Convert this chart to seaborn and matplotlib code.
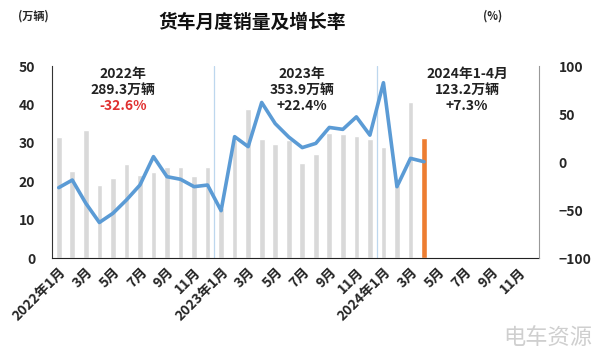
import matplotlib
matplotlib.use("Agg")
import matplotlib.pyplot as plt
import seaborn as sns
import pandas as pd
import numpy as np

sns.set_style("white")
plt.rcParams['font.family'] = ['Noto Sans CJK SC', 'DejaVu Sans']

# ---- data ----
months = [f"{y}-{m:02d}" for y in (2022, 2023, 2024) for m in range(1, 13)]
tick_labels = ["2022年1月", "3月", "5月", "7月", "9月", "11月",
               "2023年1月", "3月", "5月", "7月", "9月", "11月",
               "2024年1月", "3月", "5月", "7月", "9月", "11月"]
sales = [31.4, 22.6, 33.3, 19.0, 20.9, 24.5, 21.6, 22.5, 23.6, 23.6, 21.4, 23.8,
         13.0, 30.7, 38.9, 31.1, 29.6, 30.7, 24.8, 27.0, 32.6, 32.2, 31.8, 31.1,
         28.8, 19.0, 40.5, 31.2]
growth = [-26.7, -18.8, -43.0, -63.0, -53.5, -39.6, -24.0, 5.6, -15.3, -18.0, -25.7, -24.0,
          -50.7, 26.4, 16.0, 62.0, 40.0, 26.0, 15.0, 19.4, 36.0, 34.0, 47.0, 28.0,
          82.6, -25.7, 3.8, 0.3]
annot_years = ["2022年", "2023年", "2024年1-4月"]
annot_totals = ["289.3万辆", "353.9万辆", "123.2万辆"]
annot_growth = ["-32.6%", "+22.4%", "+7.3%"]

n_data = len(sales)
df = pd.DataFrame({
    "month": months,
    "sales": sales + [np.nan] * (len(months) - n_data),
    "kind": ["hist"] * (n_data - 1) + ["cur"] + ["none"] * (len(months) - n_data),
})
df_line = pd.DataFrame({"idx": np.arange(n_data), "growth": growth})

fig = plt.figure(figsize=(6.08, 3.55), dpi=100)
ax = fig.add_axes([52 / 608, 1 - 258 / 355, (539 - 52) / 608, (258 - 66) / 355])

sns.barplot(data=df, x="month", y="sales", hue="kind", order=months,
            palette={"hist": "#d9d9d9", "cur": "#ed7d31", "none": "#d9d9d9"},
            dodge=False, width=0.42, legend=False, ax=ax, saturation=1)
ax.set_xlim(-0.5, len(months) - 0.5)
ax.set_ylim(0, 50)
ax.set_yticks(range(0, 51, 10))
ax.set_xlabel("")
ax.set_ylabel("")
ax.set_xticks(range(0, len(months), 2))
ax.set_xticklabels(tick_labels, rotation=45, ha="right", rotation_mode="anchor",
                   fontsize=10, fontweight="bold")
for lab in ax.get_yticklabels():
    lab.set_fontweight("bold")
    lab.set_fontsize(10)
ax.tick_params(axis="x", length=0, pad=5)
ax.tick_params(axis="y", length=0, pad=12)

for x in (11.5, 23.5):
    ax.axvline(x, color="#bdd7ee", lw=0.9, zorder=0.5)

ax2 = ax.twinx()
sns.lineplot(data=df_line, x="idx", y="growth", color="#5b9bd5", lw=2.6, ax=ax2)
ax2.set_ylim(-100, 100)
ax2.set_yticks([-100, -50, 0, 50, 100])
ax2.set_ylabel("")
ax2.set_xlabel("")
ax2.set_xlim(-0.5, len(months) - 0.5)
for lab in ax2.get_yticklabels():
    lab.set_fontweight("bold")
    lab.set_fontsize(10)
ax2.tick_params(axis="y", length=0, pad=14)

for a in (ax, ax2):
    a.spines["top"].set_visible(False)
ax.spines["left"].set_color("#333333")
ax.spines["bottom"].set_color("#222222")
ax.spines["right"].set_visible(False)
ax2.spines["left"].set_visible(False)
ax2.spines["bottom"].set_visible(False)
ax2.spines["right"].set_color("#999999")

# annotations
centers = [123, 302, 467]
for cx, yr, tot, gr in zip(centers, annot_years, annot_totals, annot_growth):
    fx = cx / 608
    fig.text(fx, 1 - 74 / 355, yr, ha="center", va="center", fontsize=10, fontweight="bold", color="#222222")
    fig.text(fx, 1 - 90 / 355, tot, ha="center", va="center", fontsize=10, fontweight="bold", color="#222222")
    fig.text(fx, 1 - 106 / 355, gr, ha="center", va="center", fontsize=10, fontweight="bold",
             color="#e03030" if gr.startswith("-") else "#222222")

fig.text(252 / 608, 1 - 22 / 355, "货车月度销量及增长率", ha="center", va="center",
         fontsize=13.5, fontweight="bold", color="#111111")
fig.text(33 / 608, 1 - 16 / 355, "(万辆)", ha="center", va="center", fontsize=8, fontweight="bold")
fig.text(493 / 608, 1 - 16 / 355, "(%)", ha="center", va="center", fontsize=8, fontweight="bold")
fig.text(548 / 608, 1 - 338 / 355, "电车资源", ha="center", va="center", fontsize=16,
         color="#cfcfcf")

fig.savefig("out.png", dpi=100)
